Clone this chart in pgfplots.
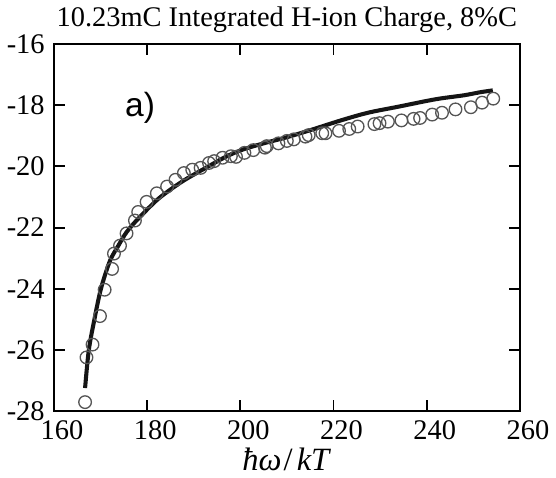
\documentclass[border=0pt]{standalone}
\usepackage{fontspec}
\setmainfont{Liberation Serif}
\newfontfamily\arialfont{Liberation Sans}
\usepackage{pgfplots}
\pgfplotsset{compat=1.18}
\definecolor{CircGray}{HTML}{555555}
\definecolor{FitBlack}{HTML}{151515}
\begin{document}
\begin{tikzpicture}
\begin{axis}[
  scale only axis,
  width=229.5pt, height=181pt,
  xmin=160, xmax=260, ymin=-28, ymax=-16,
  xtick={160,180,...,260}, ytick={-28,-26,...,-16},
  tick align=inside,
  major tick length=5.5pt,
  axis line style={line width=1pt},
  tick style={line width=0.9pt, black},
  /pgf/number format/assume math mode=true,
  tick label style={font=\fontsize{14}{16}\selectfont},
  xticklabel style={xshift=4pt, yshift=-1pt},
  yticklabel style={xshift=-1pt},
  title={10.23mC Integrated H-ion Charge, 8\%C},
  title style={font=\fontsize{14}{16}\selectfont, yshift=-4pt},
  xlabel={\textit{ħω}\kern1pt/\kern2pt\textit{kT}},
  xlabel style={font=\fontsize{16}{18}\selectfont, yshift=3pt},
  clip=false,
]
\addplot[only marks, mark=o, mark size=3.1pt, mark options={line width=0.65pt, draw=CircGray}] coordinates {
(166.7,-27.70)(167.0,-26.24)(168.3,-25.82)(169.9,-24.89)(170.9,-24.03)
(172.5,-23.35)(172.9,-22.85)(174.2,-22.59)(175.6,-22.19)(177.4,-21.77)
(178.1,-21.49)(179.9,-21.16)(182.1,-20.88)(184.3,-20.66)(186.1,-20.44)
(187.9,-20.22)(189.7,-20.11)(191.5,-20.05)(193.3,-19.89)(194.4,-19.83)
(196.2,-19.72)(198.0,-19.67)(199.1,-19.69)(200.9,-19.56)(202.8,-19.47)
(205.3,-19.39)(205.7,-19.34)(208.2,-19.25)(210.0,-19.17)(211.5,-19.12)
(214.0,-19.03)(214.7,-18.98)(217.6,-18.92)(218.3,-18.92)(221.2,-18.84)
(223.4,-18.78)(225.2,-18.70)(228.8,-18.62)(229.9,-18.59)(231.7,-18.54)
(234.6,-18.50)(237.2,-18.45)(238.6,-18.42)(241.2,-18.31)(243.3,-18.25)
(246.2,-18.14)(249.5,-18.07)(251.9,-17.92)(254.3,-17.79)
};
\addplot[line width=2pt, color=FitBlack, smooth] coordinates {
(166.7,-27.24)(167.5,-26.00)(168.7,-25.00)(170.1,-24.00)(172.0,-23.10)
(173.8,-22.60)(175.6,-22.15)(178.1,-21.71)(182.5,-21.05)(187.5,-20.50)
(192.6,-20.05)(197.0,-19.68)(200.6,-19.45)(205.0,-19.25)(210.0,-19.05)
(215.0,-18.82)(221.6,-18.50)(227.4,-18.25)(234.0,-18.05)(241.9,-17.81)
(248.0,-17.68)(251.5,-17.58)(254.2,-17.52)
};
\node[font=\arialfont\fontsize{16.5}{18}\selectfont] at (axis cs:178.5,-18.1) {a)};
\end{axis}
\end{tikzpicture}
\end{document}
